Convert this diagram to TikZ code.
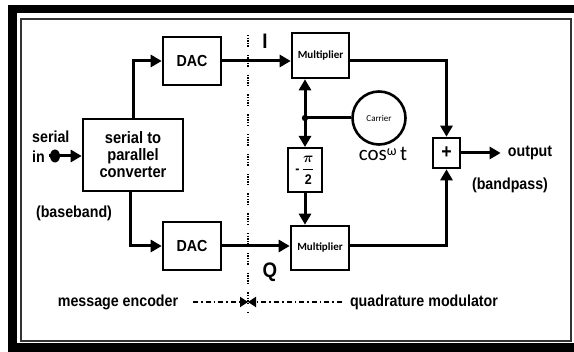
\documentclass[tikz,border=0pt]{standalone}
\usepackage{amsmath}
\usepackage{fontspec}
\setmainfont{Liberation Sans}[FakeStretch=0.89]
\newfontfamily\calib{Carlito}
\usetikzlibrary{arrows.meta}
\tikzset{
  blk/.style={draw, line width=2.6pt, inner sep=0pt, align=center,
    font=\fontsize{16}{17}\selectfont\bfseries},
  lbl/.style={inner sep=0pt, font=\fontsize{16}{17}\selectfont\bfseries},
  conn/.style={line width=3pt},
  arr/.style={conn, -{Triangle[length=11pt,width=12pt]}},
  vdots/.style={line width=2pt, dash pattern=on 1.4pt off 1.2pt on 1.4pt off 1.2pt on 1.4pt off 1.2pt on 1.4pt off 1.2pt on 1.4pt off 8pt},
  dd/.style={line width=1.8pt, dash pattern=on 5pt off 3pt on 1.6pt off 3pt, -{Triangle[length=8pt,width=10pt]}}
}
\begin{document}
\begin{tikzpicture}[x=1pt,y=-1pt]
\useasboundingbox (0,0) rectangle (574,352);
% frame
\fill (8,5) rectangle (574,13);
\fill (8,5) rectangle (17,352);
\fill (8,343) rectangle (574,352);
\draw[line width=1.8pt, black!80] (21,19) rectangle (571,341);

% blocks
\node[blk, minimum width=58pt, minimum height=48pt] (dac1) at (192,61) {DAC};
\node[blk, minimum width=58pt, minimum height=48pt] (dac2) at (192,246) {DAC};
\node[blk, minimum width=100pt, minimum height=72pt, font=\fontsize{16.5}{17}\selectfont\bfseries] (conv) at (133,155) {serial to\\parallel\\converter};
\node[blk, minimum width=57pt, minimum height=45pt, font=\calib\fontsize{11}{12}\selectfont\bfseries] (mul1) at (320.5,55.5) {Multiplier};
\node[blk, minimum width=58pt, minimum height=44pt, font=\calib\fontsize{11}{12}\selectfont\bfseries] (mul2) at (320,248) {Multiplier};
\node[blk, minimum width=27pt, minimum height=30pt, font=\fontsize{20}{20}\selectfont\bfseries] (plus) at (446.5,153) {+};
\node[draw, circle, line width=2.6pt, minimum size=53pt, inner sep=0pt, font=\calib\fontsize{9}{10}\selectfont] (carrier) at (379,118) {Carrier};
\node[draw, line width=2pt, minimum width=34pt, minimum height=44pt, inner sep=0pt, font=\fontsize{14}{15}\selectfont\bfseries] (half) at (305,170) {-\,{\boldmath$\dfrac{\pi}{\textbf{2}}$}};

% junction and input dot
\fill (305,118) circle (3.2pt) coordinate (j);
\fill (55,156) ellipse (5pt and 6.5pt) coordinate (sin);

% labels
\node[lbl, anchor=west] (serial) at (32,137) {serial};
\node[lbl, anchor=west] (in) at (32,157) {in};
\node[lbl] (base) at (74,213) {(baseband)};
\node[lbl] (band) at (510,185) {(bandpass)};
\node[lbl] (out) at (530,153) {output};
\node[lbl, font=\fontsize{21}{22}\selectfont\bfseries] (I) at (265,41) {I};
\node[lbl, font=\fontsize{21}{22}\selectfont\bfseries] (Q) at (270,272) {Q};
\node[inner sep=0pt, font=\calib\fontsize{21}{22}\selectfont] (cos) at (383,154) {cos\raisebox{5pt}{\fontsize{14}{14}\selectfont ω}\,t};
\node[lbl] (me) at (118,302) {message encoder};
\node[lbl] (qm) at (424,302) {quadrature modulator};

% connectors
\draw[arr] ([xshift=-6pt]sin) -- (conv.west |- sin);
\draw[arr] (conv.north) |- (dac1.west);
\draw[arr] ([xshift=-3pt]conv.south) |- (dac2.west);
\draw[arr] (dac1.east) -- (dac1.east -| mul1.west);
\draw[arr] (dac2.east) -- (dac2.east -| mul2.west);
\draw[arr] (dac1.east -| mul1.east) -| (plus.north);
\draw[arr] (dac2.east -| mul2.east) -| (plus.south);
\draw[arr] (plus.east) -- ([xshift=-7pt]out.west);
\draw[conn] (carrier.west) -- (j);
\draw[arr] (j) -- (j |- mul1.south);
\draw[arr] (j) -- (j |- half.north);
\draw[arr] (half.south) -- (half.south |- mul2.north);

% separator
\coordinate (vtop) at (248,35);
\coordinate (vbot) at (248,313);
\draw[vdots] (vtop) -- (vbot);
\coordinate (mid) at (248,302);
\coordinate (dl) at (193,302);
\coordinate (dr) at (342,302);
\draw[dd] (dl) -- (mid);
\draw[dd] (dr) -- (mid);
\end{tikzpicture}
\end{document}
